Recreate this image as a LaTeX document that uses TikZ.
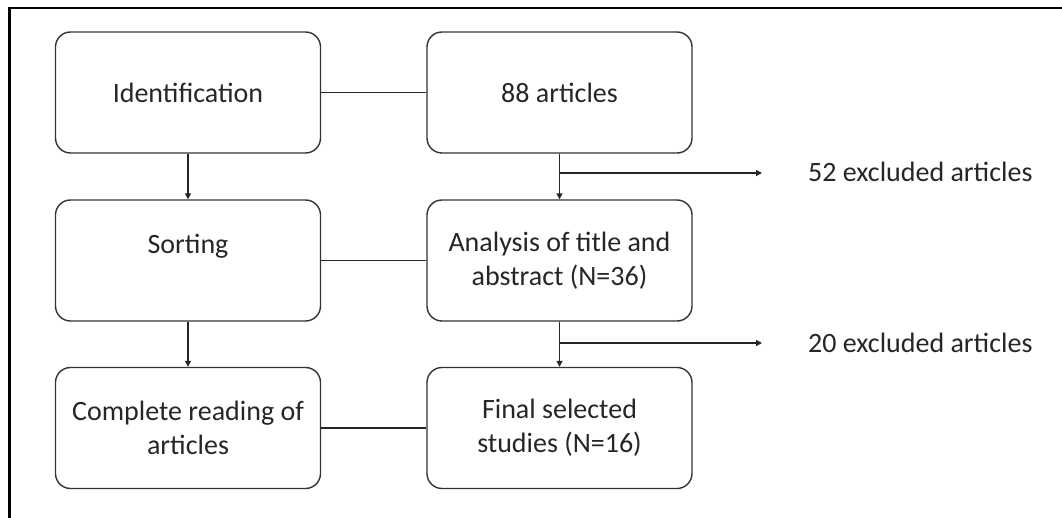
\documentclass[tikz,border=0pt]{standalone}
\usepackage{fontspec}
\setmainfont{Carlito}
\usetikzlibrary{arrows.meta}
\begin{document}
\begin{tikzpicture}[x=1pt,y=-1pt,
  box/.style={draw=black!80, line width=1.4pt, rounded corners=15pt,
    minimum width=265pt, minimum height=121pt, align=center, inner sep=0pt,
    text=black!85, font=\fontsize{28}{34}\selectfont},
  lbl/.style={anchor=west, inner sep=0pt, text=black!85, font=\fontsize{28}{34}\selectfont},
  conn/.style={draw=black!85, line width=1.4pt},
  arr/.style={conn, -{Triangle[length=6pt,width=6pt]}}]
\useasboundingbox (0,0) rectangle (1062,518);
\draw[line width=2.4pt, black] (9.5,518) -- (9.5,8) -- (1062,8);

\node[box] (idn)  at (188,92.5)  {Identification};
\node[box] (art)  at (559.5,92.5) {88 articles};
\node[box] (sort) at (188,260.5) {Sorting\\\phantom{X}};
\node[box] (ana)  at (559.5,260.5) {Analysis of title and\\abstract (N=36)};
\node[box] (comp) at (188,428) {Complete reading of\\articles};
\node[box] (fin)  at (559.5,428) {Final selected\\studies (N=16)};

\node[lbl] (ex1) at (808,172) {52 excluded articles};
\node[lbl] (ex2) at (808,343) {20 excluded articles};

\coordinate (b1) at (559.5,173);
\coordinate (t1) at (762,173);
\coordinate (b2) at (559.5,343);
\coordinate (t2) at (762,343);

\draw[conn] (idn.east) -- (art.west);
\draw[conn] (sort.east) -- (ana.west);
\draw[conn] (comp.east) -- (fin.west);
\draw[arr] (idn.south) -- (sort.north);
\draw[arr] (sort.south) -- (comp.north);
\draw[arr] (art.south) -- (ana.north);
\draw[arr] (ana.south) -- (fin.north);
\draw[arr] (b1) -- (t1);
\draw[arr] (b2) -- (t2);
\end{tikzpicture}
\end{document}
